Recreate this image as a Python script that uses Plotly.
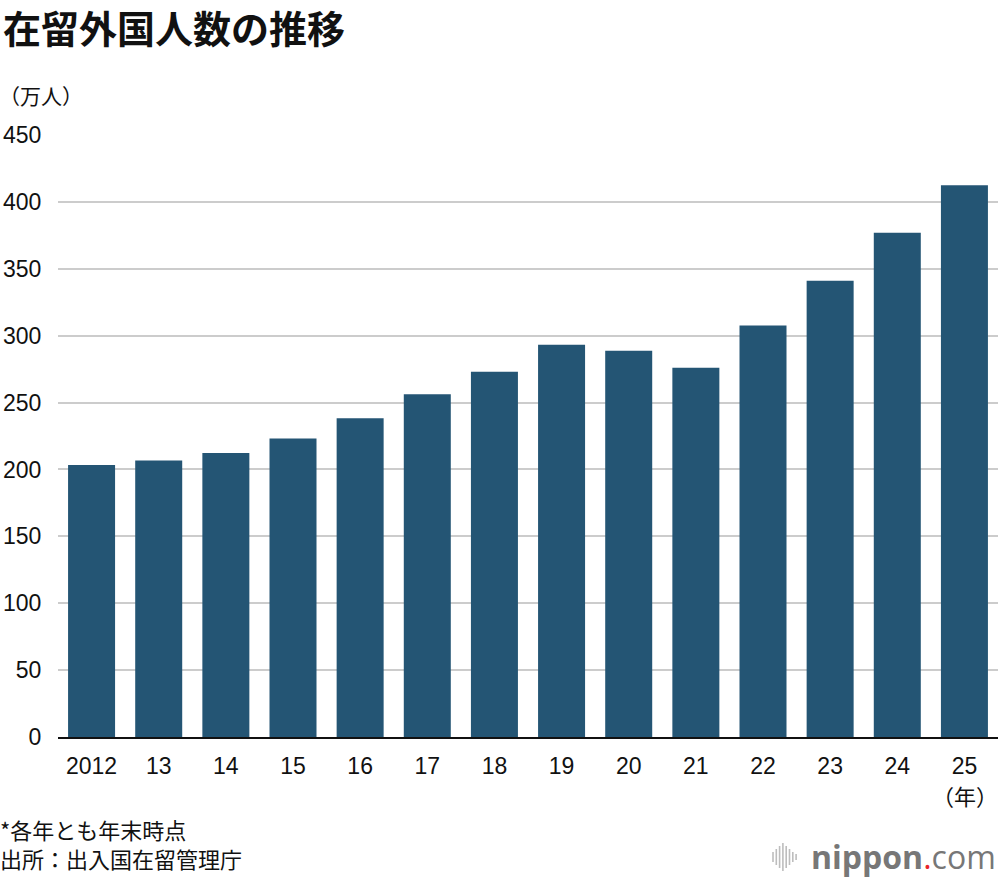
import plotly.graph_objects as go

years = ["2012", "13", "14", "15", "16", "17", "18", "19", "20", "21", "22", "23", "24", "25"]
values = [203.4, 206.6, 212.2, 223.2, 238.3, 256.2, 273.1, 293.3, 288.7, 276.1, 307.6, 341.1, 376.9, 412.5]
y_ticks = [0, 50, 100, 150, 200, 250, 300, 350, 400, 450]

BAR = "#245574"
FONT = "Liberation Sans, Arial, Noto Sans CJK JP, sans-serif"
JFONT = "Noto Sans CJK JP, sans-serif"

L, R, T, B = 58, 998, 135, 737


def px(x):
    return (x - L) / (R - L)


def py(y):
    return (B - y) / (B - T)


fig = go.Figure(go.Bar(x=years, y=values, marker=dict(color=BAR, line=dict(width=0)),
                       hoverinfo="x+y"))

fig.update_layout(
    width=1000, height=880,
    paper_bgcolor="white", plot_bgcolor="white",
    margin=dict(l=L, r=1000 - R, t=T, b=880 - B),
    bargap=0.3,
    showlegend=False,
    font=dict(family=FONT, color="#111", size=22),
    xaxis=dict(
        type="category", range=[-0.5, len(years) - 0.5], autorange=False,
        showgrid=False, showline=True, linecolor="#111", linewidth=2,
        ticks="outside", ticklen=7, tickcolor="rgba(0,0,0,0)",
        tickfont=dict(family=FONT, size=23, color="#111"),
        fixedrange=True,
    ),
    yaxis=dict(
        range=[0, 450], autorange=False, tickvals=y_ticks, showgrid=True, gridcolor="#cccccc",
        gridwidth=2, zeroline=False, showline=False,
        ticks="outside", ticklen=11, tickcolor="rgba(0,0,0,0)",
        tickfont=dict(family=FONT, size=23, color="#111"),
        fixedrange=True,
    ),
    annotations=[
        dict(text="<b>在留外国人数の推移</b>", x=px(1), y=py(26), xref="paper", yref="paper",
             xanchor="left", yanchor="middle", showarrow=False,
             font=dict(family=JFONT, size=38, color="#111")),
        dict(text="（万人）", x=px(-3), y=py(95), xref="paper", yref="paper",
             xanchor="left", yanchor="middle", showarrow=False,
             font=dict(family=JFONT, size=21, color="#111")),
        dict(text="（年）", xref="paper", yref="paper", x=px(1000), y=py(795),
             xanchor="right", yanchor="middle", showarrow=False,
             font=dict(family=JFONT, size=22, color="#111")),
        dict(text="*各年とも年末時点<br>出所：出入国在留管理庁", x=px(-2), y=py(843),
             xref="paper", yref="paper", xanchor="left", yanchor="middle", align="left",
             showarrow=False, font=dict(family=JFONT, size=22, color="#111")),
        dict(text="<b>nippon</b><span style='color:#e8242b'>.</span>com", x=px(998), y=py(856),
             xref="paper", yref="paper", xanchor="right", yanchor="middle", showarrow=False,
             font=dict(family="Open Sans, Noto Sans, sans-serif", size=32, color="#777777")),
    ],
)

# decorative sound-wave icon of the logo
icon_x0 = 773
heights = [10, 16, 22, 28, 22, 16, 10, 6]
shapes = []
for i, h in enumerate(heights):
    x = icon_x0 + i * 3.3
    shapes.append(dict(type="line", xref="paper", yref="paper",
                       x0=px(x), x1=px(x), y0=py(857 - h / 2), y1=py(857 + h / 2),
                       line=dict(color="#bdbdbd", width=1.6)))
fig.update_layout(shapes=shapes)

fig.write_html("out.html", config={"displayModeBar": False},
               post_script="document.body.style.margin='0';document.body.style.padding='0';")
